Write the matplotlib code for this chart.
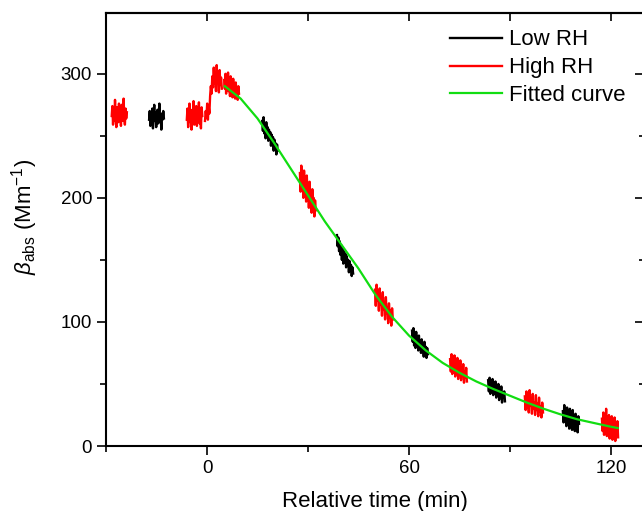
import numpy as np
import matplotlib
matplotlib.use("Agg")
import matplotlib.pyplot as plt
from matplotlib.ticker import MultipleLocator

plt.rcParams["font.family"] = ["Liberation Sans", "DejaVu Sans"]
plt.rcParams["mathtext.fontset"] = "custom"
plt.rcParams["mathtext.rm"] = "Liberation Sans"
plt.rcParams["mathtext.it"] = "Liberation Sans:italic"

# Absorption measurements, one block per humidity phase: (start, end) in min and the readings
low_rh_spans = [(-17.2, -12.8), (16.4, 21.0), (38.6, 43.4), (60.9, 65.6), (83.5, 88.5), (105.7, 110.5)]
low_rh_values = [
    [263, 270, 258, 268, 261, 272, 256, 266, 275, 262, 269, 257, 264, 271, 260, 267, 276, 261, 266, 255, 268, 263, 270, 264],
    [262, 254, 265, 252, 259, 248, 261, 253, 257, 246, 255, 249, 253, 242, 251, 245, 249, 238, 247, 241, 244, 235, 243, 238],
    [170, 161, 168, 157, 165, 154, 162, 150, 160, 147, 157, 149, 155, 144, 153, 146, 150, 140, 149, 142, 146, 137, 144, 139],
    [93, 84, 95, 81, 90, 79, 92, 83, 87, 77, 89, 80, 85, 75, 86, 78, 82, 72, 84, 76, 80, 71, 79, 74],
    [53, 44, 55, 42, 50, 46, 54, 41, 49, 44, 52, 39, 47, 42, 50, 37, 45, 41, 48, 35, 43, 39, 44, 36],
    [28, 19, 33, 21, 26, 16, 31, 22, 25, 14, 30, 20, 24, 13, 29, 18, 23, 12, 26, 17, 22, 11, 24, 18],
]

high_rh_spans = [(-28.3, -23.8), (-6.0, -1.4), (-0.6, 4.4), (5.1, 9.5), (27.6, 32.3), (49.9, 55.2),
                 (72.2, 77.2), (94.4, 99.8), (117.3, 122.1)]
high_rh_values = [
    [266, 274, 259, 271, 262, 279, 265, 257, 273, 268, 261, 276, 264, 270, 258, 275, 267, 262, 280, 266, 259, 272, 264, 269],
    [263, 272, 257, 269, 276, 261, 266, 255, 271, 264, 278, 259, 268, 262, 274, 258, 270, 265, 277, 260, 267, 256, 273, 266],
    [262, 270, 265, 276, 263, 274, 268, 282, 290, 284, 298, 289, 305, 292, 300, 286, 307, 294, 299, 285, 303, 291, 297, 288],
    [295, 288, 300, 284, 297, 290, 301, 286, 293, 282, 298, 289, 294, 281, 296, 287, 291, 280, 293, 285, 289, 279, 290, 284],
    [220, 205, 226, 210, 215, 200, 222, 207, 212, 197, 218, 203, 208, 192, 213, 199, 205, 188, 207, 195, 200, 185, 198, 190],
    [126, 113, 130, 117, 122, 109, 127, 114, 119, 105, 124, 110, 116, 102, 120, 107, 112, 99, 115, 104, 109, 97, 111, 102],
    [70, 60, 74, 58, 68, 62, 73, 56, 66, 59, 71, 54, 64, 58, 69, 53, 62, 57, 66, 51, 60, 55, 63, 52],
    [40, 29, 44, 31, 38, 27, 45, 33, 36, 26, 42, 30, 35, 25, 41, 29, 34, 24, 39, 28, 32, 23, 35, 27],
    [22, 12, 27, 9, 19, 14, 30, 8, 21, 11, 25, 6, 18, 13, 24, 5, 17, 10, 23, 4, 15, 9, 20, 7],
]

# Fitted decay curve
fit_time = [5.3, 10, 15, 20, 25, 30, 35, 40, 45, 50, 55, 60, 65, 70, 75, 80, 85, 90, 95, 100,
            105, 110, 115, 120, 122]
fit_value = [290, 280, 264, 244, 223, 202, 181, 162, 143, 122, 104, 89, 77, 67, 59, 52, 46, 40.5,
             35, 30, 25.5, 21.5, 18.5, 15.5, 14.5]

x_ticks = [0, 60, 120]
y_ticks = [0, 100, 200, 300]

fig = plt.figure(figsize=(6.42, 5.11), dpi=100)
ax = fig.add_axes([0.16511, 0.1272, 0.83645, 0.84736])


def draw_blocks(spans, values, color, label):
    for i, ((t0, t1), vals) in enumerate(zip(spans, values)):
        t = np.linspace(t0, t1, len(vals))
        ax.plot(t, vals, color=color, lw=1.7, label=label if i == 0 else None)


draw_blocks(low_rh_spans, low_rh_values, "black", "Low RH")
draw_blocks(high_rh_spans, high_rh_values, "#ff0000", "High RH")
ax.plot(fit_time, fit_value, color="#11dd11", lw=1.6, label="Fitted curve")

ax.set_xlim(-30, 129.5)
ax.set_ylim(0, 349)
ax.set_xticks(x_ticks)
ax.set_yticks(y_ticks)
ax.xaxis.set_minor_locator(MultipleLocator(30))
ax.yaxis.set_minor_locator(MultipleLocator(50))

for side in ["left", "bottom", "top", "right"]:
    ax.spines[side].set_linewidth(1.5)

ax.tick_params(axis="both", which="major", labelsize=13.5, width=1.2, length=6.5, pad=3.5)
ax.tick_params(axis="both", which="minor", width=1.2, length=4)
ax.tick_params(axis="x", which="both", direction="out", top=False)
ax.tick_params(axis="y", which="both", direction="out", right=False)

# mirrored inward ticks on the top and right
sec_x = ax.secondary_xaxis("top")
sec_x.set_xticks(x_ticks)
sec_x.xaxis.set_minor_locator(MultipleLocator(30))
sec_x.tick_params(which="both", direction="in", labeltop=False, width=1.2)
sec_x.tick_params(which="major", length=6)
sec_x.tick_params(which="minor", length=6)
sec_x.spines["top"].set_linewidth(1.5)

sec_y = ax.secondary_yaxis("right")
sec_y.set_yticks(y_ticks)
sec_y.yaxis.set_minor_locator(MultipleLocator(50))
sec_y.tick_params(which="both", direction="in", labelright=False, width=1.2)
sec_y.tick_params(which="major", length=6)
sec_y.tick_params(which="minor", length=3)

ax.set_xlabel("Relative time (min)", fontsize=16)
ax.xaxis.set_label_coords(0.5, -0.104)
ax.set_ylabel(r"$\beta_{\rm abs}$ (Mm$^{-1}$)", fontsize=16)
ax.yaxis.set_label_coords(-0.122, 0.53)

ax.legend(loc="upper left", bbox_to_anchor=(0.64, 0.962), frameon=False, fontsize=16,
          handlelength=2.36, handletextpad=0.3, labelspacing=0.31, borderpad=0, borderaxespad=0)

fig.savefig("out.png", dpi=100, facecolor="white")
